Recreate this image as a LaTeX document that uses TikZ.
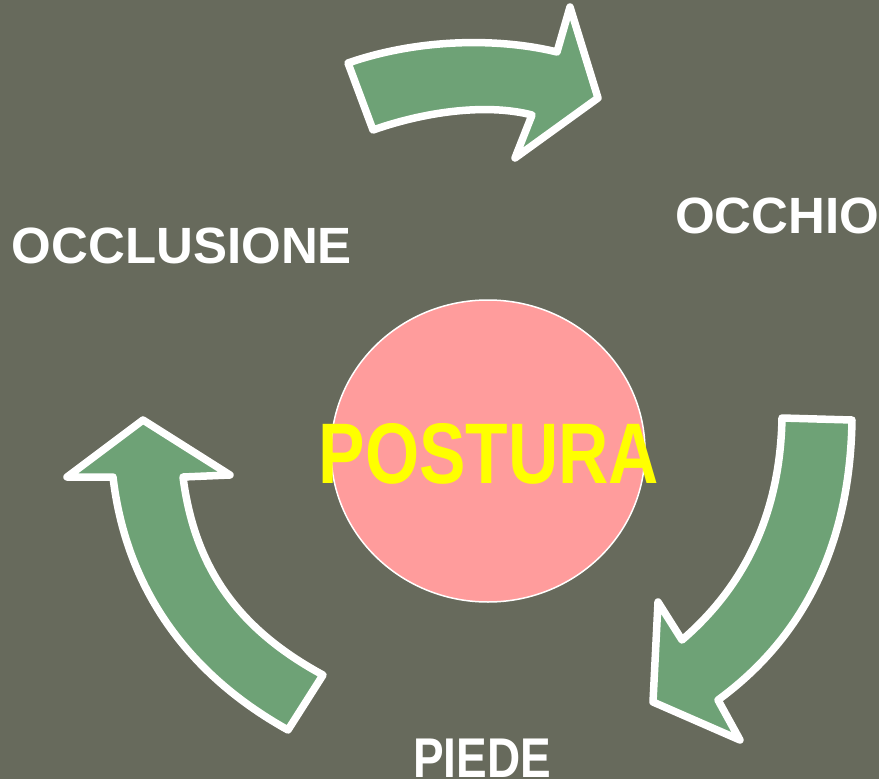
\documentclass[tikz,border=0pt]{standalone}
\usepackage{fontspec}
\setmainfont{Liberation Sans}
\usetikzlibrary{shapes.geometric}
\definecolor{bg}{HTML}{676A5C}
\definecolor{arrowgreen}{HTML}{6EA276}
\definecolor{hub}{HTML}{FF9C9C}
\definecolor{hubtext}{HTML}{FFFF00}
\tikzset{
  bigarrow/.style={fill=arrowgreen, draw=white, line width=7.5pt, line join=round},
  label/.style={text=white, font=\bfseries\fontsize{51}{51}\selectfont, inner sep=0pt, anchor=base},
  hubshape/.style={ellipse, fill=hub, draw=white, line width=1.5pt, inner sep=0pt, minimum width=314pt, minimum height=302pt},
}
\begin{document}
\begin{tikzpicture}[x=1pt,y=-1pt]
\fill[bg] (0,0) rectangle (879,779);
\useasboundingbox (0,0) rectangle (879,779);

% hub
\node[hubshape] (hub) at (488,451) {};
\node[text=hubtext, font=\bfseries\fontsize{86}{86}\selectfont, inner sep=0pt, anchor=base, xscale=0.81] (postura) at (489,483) {POSTURA};

% labels
\node[label] (occhio) at (777,233) {OCCHIO};
\node[label] (occlusione) at (182,263) {OCCLUSIONE};
\node[label, font=\bfseries\fontsize{56}{56}\selectfont, xscale=0.82] (piede) at (482,777) {PIEDE};

% top arrow (occlusione -> occhio)
\draw[bigarrow] (348,63) -- (373,130) .. controls (430,110) and (490,104) .. (532,115)
  -- (515,158) -- (598,98) -- (570,7) -- (557,52)
  .. controls (500,38) and (420,38) .. (348,63) -- cycle;

% right arrow (occhio -> piede)
\draw[bigarrow] (782,418) -- (852,420) .. controls (850,550) and (800,640) .. (718,700)
  -- (740,740) -- (653,702) -- (658,602) -- (682,640)
  .. controls (740,590) and (780,520) .. (782,418) -- cycle;

% left arrow (piede -> occlusione)
\draw[bigarrow] (143,420) -- (230,475) -- (183,477) .. controls (195,570) and (240,630) .. (323,675)
  -- (288,730) .. controls (180,670) and (125,580) .. (113,477) -- (67,477) -- cycle;
\end{tikzpicture}
\end{document}
